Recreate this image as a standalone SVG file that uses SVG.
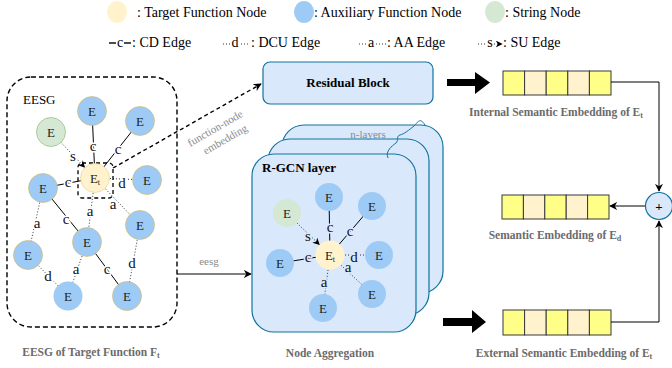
<svg xmlns="http://www.w3.org/2000/svg" width="672" height="368" viewBox="0 0 672 368">
<defs>
<style>
text{font-family:"Liberation Serif","Times New Roman",serif;}
.leg{font-size:14px;fill:#000;}
.nb{fill:#9ECBF5;stroke:#D6B656;stroke-width:0.6;}
.nb2{fill:#9ECBF5;stroke:none;}
.nt{fill:#FFF2CC;stroke:#E6CF8A;stroke-width:0.6;}
.ng{fill:#D5E8D4;stroke:#82B366;stroke-width:0.6;}
.nl{font-size:13px;text-anchor:middle;fill:#222;}
.el{font-size:15px;text-anchor:middle;fill:#111;paint-order:stroke;stroke:#fff;stroke-width:3px;}
.elb{font-size:15px;text-anchor:middle;fill:#111;paint-order:stroke;stroke:#DAE8FC;stroke-width:3px;}
.sl{stroke:#000;stroke-width:1;fill:none;}
.dl{stroke:#333;stroke-width:1;stroke-dasharray:1 2;fill:none;}
.box{fill:#DAE8FC;stroke:#10739E;stroke-width:1.2;}
.gray{font-size:11px;fill:#8a8a8a;text-anchor:middle;}
.cap{font-size:11.5px;font-weight:bold;fill:#6b6b6b;text-anchor:middle;}
.cy{fill:#FFFF88;stroke:#36393D;stroke-width:1;}
.cb{fill:#FFF2CC;stroke:#36393D;stroke-width:1;}
</style>
<marker id="ah" viewBox="0 0 10 10" refX="9" refY="5" markerWidth="8" markerHeight="8" markerUnits="userSpaceOnUse" orient="auto">
<path d="M0,0 L10,5 L0,10 L3,5 z" fill="#000"/>
</marker>
<marker id="ahs" viewBox="0 0 10 10" refX="9" refY="5" markerWidth="7" markerHeight="7" markerUnits="userSpaceOnUse" orient="auto">
<path d="M0,0 L10,5 L0,10 L3,5 z" fill="#000"/>
</marker>
</defs>
<rect width="672" height="368" fill="#fff"/>

<g id="legend">
<ellipse cx="117" cy="12" rx="10" ry="11" fill="#FFF2CC"/>
<text class="leg" x="137" y="17">: Target Function Node</text>
<ellipse cx="304" cy="12" rx="10" ry="11" fill="#9ECBF5"/>
<text class="leg" x="314" y="17">: Auxiliary Function Node</text>
<ellipse cx="495" cy="12" rx="10" ry="11" fill="#D5E8D4"/>
<text class="leg" x="505" y="17">: String Node</text>
<line x1="109" y1="43" x2="116" y2="43" stroke="#000" stroke-width="1.4"/>
<text class="leg" x="120" y="47" text-anchor="middle">c</text>
<line x1="124" y1="43" x2="131" y2="43" stroke="#000" stroke-width="1.4"/>
<text class="leg" x="132" y="47">: CD Edge</text>
<line x1="223" y1="44" x2="230" y2="44" class="dl"/>
<text class="leg" x="235" y="47" text-anchor="middle">d</text>
<line x1="241" y1="44" x2="250" y2="44" class="dl"/>
<text class="leg" x="251" y="47">: DCU Edge</text>
<line x1="359" y1="44" x2="367" y2="44" class="dl"/>
<text class="leg" x="371" y="47" text-anchor="middle">a</text>
<line x1="376" y1="44" x2="386" y2="44" class="dl"/>
<text class="leg" x="387" y="47">: AA Edge</text>
<line x1="478" y1="44" x2="486" y2="44" class="dl"/>
<text class="leg" x="490" y="47" text-anchor="middle">s</text>
<line x1="494" y1="44" x2="502" y2="44" class="dl" marker-end="url(#ahs)"/>
<text class="leg" x="503" y="47">: SU Edge</text>
</g>

<g id="eesg-frame">
<rect x="7" y="77" width="170" height="250" rx="24" fill="none" stroke="#000" stroke-width="1.4" stroke-dasharray="5 3"/>
<text x="23" y="104" font-size="13">EESG</text>
</g>

<g id="connectors">
<line class="sl" x1="92" y1="111" x2="95" y2="178"/>
<line class="sl" x1="140" y1="121" x2="95" y2="178"/>
<line class="dl" x1="61" y1="142.5" x2="84.6" y2="167.2" marker-end="url(#ahs)"/>
<line class="sl" x1="43" y1="188" x2="95" y2="178"/>
<line class="dl" x1="95" y1="178" x2="147" y2="180"/>
<line class="dl" x1="95" y1="178" x2="140" y2="225"/>
<line class="dl" x1="95" y1="178" x2="87" y2="242"/>
<line class="dl" x1="43" y1="188" x2="28" y2="255"/>
<line class="sl" x1="43" y1="188" x2="87" y2="242"/>
<line class="dl" x1="87" y1="242" x2="68" y2="296"/>
<line class="sl" x1="87" y1="242" x2="127" y2="296"/>
<line class="dl" x1="28" y1="255" x2="68" y2="296"/>
<line class="dl" x1="140" y1="225" x2="127" y2="296"/>
<text class="el" x="93" y="151">c</text>
<text class="el" x="118" y="154">c</text>
<text class="el" x="73" y="161">s</text>
<text class="el" x="68" y="187">c</text>
<text class="el" x="122" y="188">d</text>
<text class="el" x="113" y="209">a</text>
<text class="el" x="90" y="216">a</text>
<text class="el" x="37" y="228">a</text>
<text class="el" x="66" y="224">c</text>
<text class="el" x="76" y="274">a</text>
<text class="el" x="107" y="274">c</text>
<text class="el" x="48" y="281">d</text>
<text class="el" x="132" y="268">d</text>
<rect x="78" y="163" width="35" height="35" rx="4" fill="none" stroke="#000" stroke-width="1.3" stroke-dasharray="4 3"/>
<path d="M113,168 L261,84" fill="none" stroke="#000" stroke-width="1.4" stroke-dasharray="4 3" marker-end="url(#ah)"/>
<text class="gray" x="215" y="132" transform="rotate(-30 215 128)">function-node</text>
<text class="gray" x="225" y="143" transform="rotate(-30 225 139)">embedding</text>
<path d="M177,274 H251" class="sl" stroke-width="1.2" marker-end="url(#ah)"/>
<text class="gray" x="209" y="265">eesg</text>
</g>

<g id="eesg-nodes">
<g id="n-top"><circle class="nb" cx="92" cy="111" r="14.5"/><text class="nl" x="92" y="116">E</text></g>
<g id="n-topright"><circle class="nb" cx="140" cy="121" r="14.5"/><text class="nl" x="140" y="126">E</text></g>
<g id="n-string"><circle class="ng" cx="51" cy="132" r="14.5"/><text class="nl" x="51" y="137">E</text></g>
<g id="n-target"><circle class="nt" cx="95" cy="178" r="14.5"/><text class="nl" x="95" y="183">E<tspan font-size="8" dy="2">t</tspan></text></g>
<g id="n-left"><circle class="nb" cx="43" cy="188" r="14.5"/><text class="nl" x="43" y="193">E</text></g>
<g id="n-right"><circle class="nb" cx="147" cy="180" r="14.5"/><text class="nl" x="147" y="185">E</text></g>
<g id="n-rightlow"><circle class="nb" cx="140" cy="225" r="14.5"/><text class="nl" x="140" y="230">E</text></g>
<g id="n-center"><circle class="nb" cx="87" cy="242" r="14.5"/><text class="nl" x="87" y="247">E</text></g>
<g id="n-leftlow"><circle class="nb" cx="28" cy="255" r="14.5"/><text class="nl" x="28" y="260">E</text></g>
<g id="n-bottom"><circle class="nb2" cx="68" cy="296" r="14.5"/><text class="nl" x="68" y="301">E</text></g>
<g id="n-bottomright"><circle class="nb" cx="127" cy="296" r="14.5"/><text class="nl" x="127" y="301">E</text></g>
</g>

<g id="residual-block">
<rect class="box" x="263" y="62" width="170" height="42" rx="7"/>
<text x="348" y="87" font-size="13" font-weight="bold" text-anchor="middle">Residual Block</text>
</g>

<g id="rgcn">
<rect class="box" x="282" y="125" width="161" height="168" rx="22"/>
<rect class="box" x="268" y="139" width="161" height="176" rx="22"/>
<rect class="box" x="252" y="154" width="164" height="178" rx="22"/>
<path d="M388,158 C385,151 392,146 396,143 C399,140 396,136 400,135 C404,134 409,130 414,126 C418,122 420,117 425,125" fill="none" stroke="#10739E" stroke-width="1"/>
<text class="gray" x="368" y="138">n-layers</text>
<text x="262" y="172" font-size="13" font-weight="bold">R-GCN layer</text>
<line class="sl" x1="329" y1="197" x2="330" y2="255"/>
<line class="sl" x1="372" y1="206" x2="330" y2="255"/>
<line class="dl" x1="297" y1="223" x2="319.3" y2="244.5" marker-end="url(#ahs)"/>
<line class="sl" x1="280" y1="263" x2="330" y2="255"/>
<line class="dl" x1="330" y1="255" x2="379" y2="255"/>
<line class="dl" x1="330" y1="255" x2="372" y2="294"/>
<line class="dl" x1="330" y1="255" x2="323" y2="308"/>
<text class="elb" x="330" y="232">c</text>
<text class="elb" x="350" y="236">c</text>
<text class="elb" x="308" y="241">s</text>
<text class="elb" x="308" y="262">c</text>
<text class="elb" x="354" y="262">d</text>
<text class="elb" x="348" y="272">a</text>
<text class="elb" x="324" y="287">a</text>
<g id="r-top"><circle class="nb2" cx="329" cy="197" r="14"/><text class="nl" x="329" y="202">E</text></g>
<g id="r-topright"><circle class="nb2" cx="372" cy="206" r="14"/><text class="nl" x="372" y="211">E</text></g>
<g id="r-string"><circle fill="#D5E8D4" cx="287" cy="213" r="14"/><text class="nl" x="287" y="218">E</text></g>
<g id="r-target"><circle fill="#FFF2CC" cx="330" cy="255" r="14.5"/><text class="nl" x="330" y="260">E<tspan font-size="8" dy="2">t</tspan></text></g>
<g id="r-left"><circle class="nb2" cx="280" cy="263" r="14"/><text class="nl" x="280" y="268">E</text></g>
<g id="r-right"><circle class="nb2" cx="379" cy="255" r="14"/><text class="nl" x="379" y="260">E</text></g>
<g id="r-lowright"><circle class="nb2" cx="372" cy="294" r="14"/><text class="nl" x="372" y="299">E</text></g>
<g id="r-bottom"><circle class="nb2" cx="323" cy="308" r="14"/><text class="nl" x="323" y="313">E</text></g>
</g>

<g id="big-arrows">
<polygon points="447,79 475,79 475,72 490,82.5 475,94 475,86 447,86" fill="#000"/>
<polygon points="443,318 472,318 472,310 486,322 472,333 472,326 443,326" fill="#000"/>
</g>

<g id="emb-internal">
<rect class="cy" x="503" y="71" width="21.6" height="24"/>
<rect class="cb" x="524.6" y="71" width="21.6" height="24"/>
<rect class="cy" x="546.2" y="71" width="21.6" height="24"/>
<rect class="cb" x="567.8" y="71" width="21.6" height="24"/>
<rect class="cy" x="589.4" y="71" width="21.6" height="24"/>
<text class="cap" x="556" y="116">Internal Semantic Embedding of E<tspan font-size="8" dy="2">t</tspan></text>
</g>

<g id="emb-semantic">
<rect class="cy" x="502" y="195" width="21.4" height="24"/>
<rect class="cb" x="523.4" y="195" width="21.4" height="24"/>
<rect class="cy" x="544.8" y="195" width="21.4" height="24"/>
<rect class="cb" x="566.2" y="195" width="21.4" height="24"/>
<rect class="cy" x="587.6" y="195" width="21.4" height="24"/>
<text class="cap" x="555" y="239">Semantic Embedding of E<tspan font-size="8" dy="2">d</tspan></text>
</g>

<g id="emb-external">
<rect class="cy" x="503" y="310" width="21.6" height="25"/>
<rect class="cb" x="524.6" y="310" width="21.6" height="25"/>
<rect class="cy" x="546.2" y="310" width="21.6" height="25"/>
<rect class="cb" x="567.8" y="310" width="21.6" height="25"/>
<rect class="cy" x="589.4" y="310" width="21.6" height="25"/>
<text class="cap" x="564" y="357">External Semantic Embedding of E<tspan font-size="8" dy="2">t</tspan></text>
</g>

<g id="plus-connectors">
<path d="M611,82 H659 V191" class="sl" marker-end="url(#ah)"/>
<path d="M611,322 H659 V221" class="sl" marker-end="url(#ah)"/>
<path d="M645.5,206 H610" class="sl" marker-end="url(#ah)"/>
</g>

<g id="plus">
<circle class="box" cx="659" cy="206" r="13.5"/>
<text x="659" y="210.5" font-size="13" font-weight="bold" text-anchor="middle">+</text>
</g>

<g id="captions">
<text class="cap" x="91" y="356">EESG of Target Function F<tspan font-size="8" dy="2">t</tspan></text>
<text class="cap" x="330" y="357">Node Aggregation</text>
</g>
</svg>
